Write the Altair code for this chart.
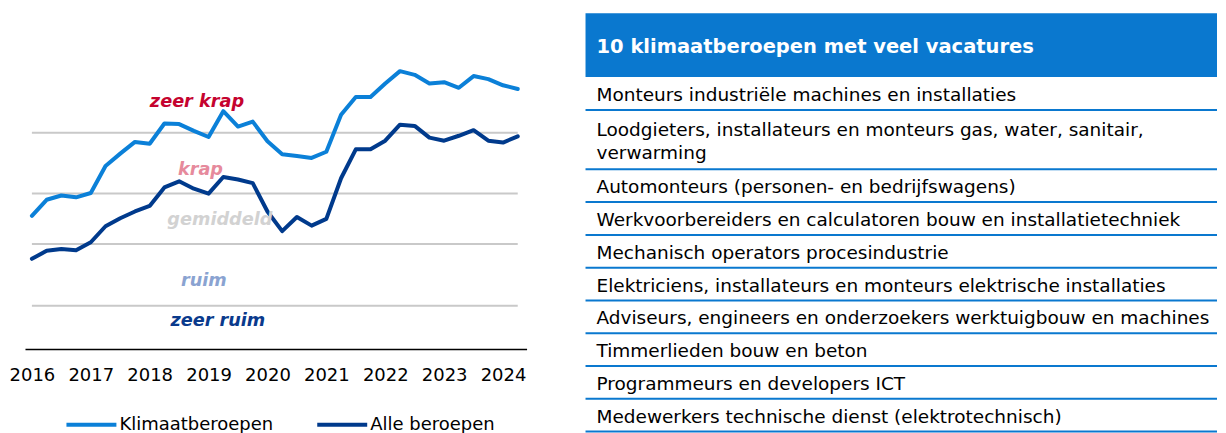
import altair as alt
import pandas as pd

# ---------------- data ----------------
years = list(range(2016, 2025))
quarters = [f"{y}-K{q}" for y in years for q in range(1, 5)][:34]

klimaat = [2.46, 2.72, 2.79, 2.76, 2.83, 3.27, 3.47, 3.66, 3.63, 3.96, 3.95, 3.84,
           3.74, 4.16, 3.91, 3.99, 3.67, 3.46, 3.43, 3.40, 3.50, 4.10, 4.39, 4.39,
           4.61, 4.81, 4.75, 4.61, 4.63, 4.54, 4.73, 4.68, 4.58, 4.52]
alle = [1.76, 1.89, 1.92, 1.90, 2.03, 2.29, 2.42, 2.53, 2.62, 2.92, 3.02, 2.90,
        2.82, 3.09, 3.05, 2.99, 2.53, 2.21, 2.44, 2.30, 2.41, 3.07, 3.54, 3.54,
        3.68, 3.94, 3.92, 3.73, 3.68, 3.76, 3.85, 3.68, 3.65, 3.75]

series_names = ["Klimaatberoepen", "Alle beroepen"]
series_colors = ["#0b80d8", "#003a8c"]

grid_levels = [1.0, 2.0, 2.82, 3.81]

zone_labels = ["zeer krap", "krap", "gemiddeld", "ruim", "zeer ruim"]
zone_x = [11.21, 11.45, 12.77, 11.68, 12.63]
zone_y = [4.31, 3.20, 2.39, 1.40, 0.75]
zone_colors = ["#c5032f", "#e68a9c", "#d2d2d2", "#8aa3d1", "#0a3a8c"]

table_title = "10 klimaatberoepen met veel vacatures"
occupations = [
    "Monteurs industriële machines en installaties",
    "Loodgieters, installateurs en monteurs gas, water, sanitair,\nverwarming",
    "Automonteurs (personen- en bedrijfswagens)",
    "Werkvoorbereiders en calculatoren bouw en installatietechniek",
    "Mechanisch operators procesindustrie",
    "Elektriciens, installateurs en monteurs elektrische installaties",
    "Adviseurs, engineers en onderzoekers werktuigbouw en machines",
    "Timmerlieden bouw en beton",
    "Programmeurs en developers ICT",
    "Medewerkers technische dienst (elektrotechnisch)",
]

BLUE = "#0a78cf"
FONT = "DejaVu Sans"

# ---------------- left: line chart ----------------
idx = list(range(len(quarters)))
line_df = pd.DataFrame({
    "idx": idx * 2,
    "kwartaal": quarters * 2,
    "value": klimaat + alle,
    "series": [series_names[0]] * len(idx) + [series_names[1]] * len(idx),
})
grid_df = pd.DataFrame({"g": grid_levels, "x0": [idx[0]] * len(grid_levels),
                        "x1": [idx[-1]] * len(grid_levels)})
zone_df = pd.DataFrame({"label": zone_labels, "x": zone_x, "y": zone_y, "c": zone_colors})

xscale = alt.Scale(domain=[-0.47, 33.6], nice=False, zero=False)
yscale = alt.Scale(domain=[0.297, 5.752], nice=False, zero=False)
tick_vals = [4 * (y - years[0]) for y in years]

grid = alt.Chart(grid_df).mark_rule(color="#c9c9c9", strokeWidth=2).encode(
    x=alt.X("x0:Q", scale=xscale,
            axis=alt.Axis(values=tick_vals, labelExpr=f"'' + ({years[0]} + datum.value / 4)",
                          title=None, ticks=False, grid=False, domain=True,
                          domainColor="#000000", domainWidth=1.5,
                          labelFont=FONT, labelFontSize=18, labelColor="#000000",
                          labelPadding=18, labelFlush=False, labelOverlap=False)),
    x2="x1:Q",
    y=alt.Y("g:Q", scale=yscale, axis=None),
)

lines = alt.Chart(line_df).mark_line(strokeWidth=4, strokeJoin="round", strokeCap="round").encode(
    x=alt.X("idx:Q", scale=xscale),
    y=alt.Y("value:Q", scale=yscale),
    color=alt.Color("series:N", scale=alt.Scale(domain=series_names, range=series_colors),
                    legend=alt.Legend(orient="none", legendX=39.5, legendY=385, direction="horizontal",
                                      title=None, symbolType="stroke", symbolSize=2500,
                                      symbolStrokeWidth=4, labelFont=FONT, labelFontSize=18,
                                      labelColor="#000000", columnPadding=36, labelOffset=1,
                                      padding=0)),
    detail="series:N",
)

zones = alt.Chart(zone_df).mark_text(font=FONT, fontSize=17.7, fontWeight="bold",
                                     fontStyle="italic", align="center", baseline="middle").encode(
    x=alt.X("x:Q", scale=xscale),
    y=alt.Y("y:Q", scale=yscale),
    text="label:N",
    color=alt.Color("c:N", scale=None),
)

left = alt.layer(grid, lines, zones).properties(width=502, height=336)

# ---------------- right: table ----------------
HEADER_H = 64.0
ROW_H1 = 32.8
ROW_H2 = 59.5
LINE_H = 23
rows_top, rows_bot, rows_mid = [], [], []
pos = HEADER_H
for occ in occupations:
    n = occ.count("\n") + 1
    h = ROW_H2 if n > 1 else ROW_H1
    rows_top.append(pos)
    rows_mid.append(pos + h / 2 + 1.5 - (n - 1) * LINE_H / 2)
    pos += h
    rows_bot.append(pos)
TABLE_H = 420
TABLE_W = 632

tab_df = pd.DataFrame({
    "occ": occupations,
    "top": rows_top,
    "bot": rows_bot,
    "mid": rows_mid,
    "x0": [0.0] * len(occupations),
    "x1": [1.0] * len(occupations),
})
head_df = pd.DataFrame({"title": [table_title], "x0": [0.0], "x1": [1.0],
                        "y0": [0.0], "y1": [HEADER_H], "ym": [HEADER_H / 2 + 1.5]})

tx = alt.Scale(domain=[0, 1], nice=False, zero=False)
ty = alt.Scale(domain=[0, TABLE_H], nice=False, zero=False, reverse=True)

header = alt.Chart(head_df).mark_rect(color=BLUE).encode(
    x=alt.X("x0:Q", scale=tx, axis=None), x2="x1:Q",
    y=alt.Y("y0:Q", scale=ty, axis=None), y2="y1:Q",
)
header_txt = alt.Chart(head_df).mark_text(font=FONT, fontSize=19.5, fontWeight="bold",
                                          color="#ffffff", align="left", baseline="middle",
                                          dx=11).encode(
    x=alt.X("x0:Q", scale=tx, axis=None),
    y=alt.Y("ym:Q", scale=ty, axis=None),
    text="title:N",
)
seps = alt.Chart(tab_df).mark_rule(color=BLUE, strokeWidth=2).encode(
    x=alt.X("x0:Q", scale=tx, axis=None), x2="x1:Q",
    y=alt.Y("bot:Q", scale=ty, axis=None),
)
row_txt = alt.Chart(tab_df).mark_text(font=FONT, fontSize=18.5, color="#000000", align="left",
                                      baseline="middle", dx=11, lineBreak="\n",
                                      lineHeight=LINE_H).encode(
    x=alt.X("x0:Q", scale=tx, axis=None),
    y=alt.Y("mid:Q", scale=ty, axis=None),
    text="occ:N",
)

right = alt.layer(header, header_txt, seps, row_txt).properties(width=TABLE_W, height=TABLE_H)

chart = alt.hconcat(left, right, spacing=59, bounds="flush").properties(
    padding={"left": 1, "top": 5, "right": 0, "bottom": 0}
).configure_view(stroke=None)

chart.save("out.html", embed_options={"renderer": "svg", "actions": False})
